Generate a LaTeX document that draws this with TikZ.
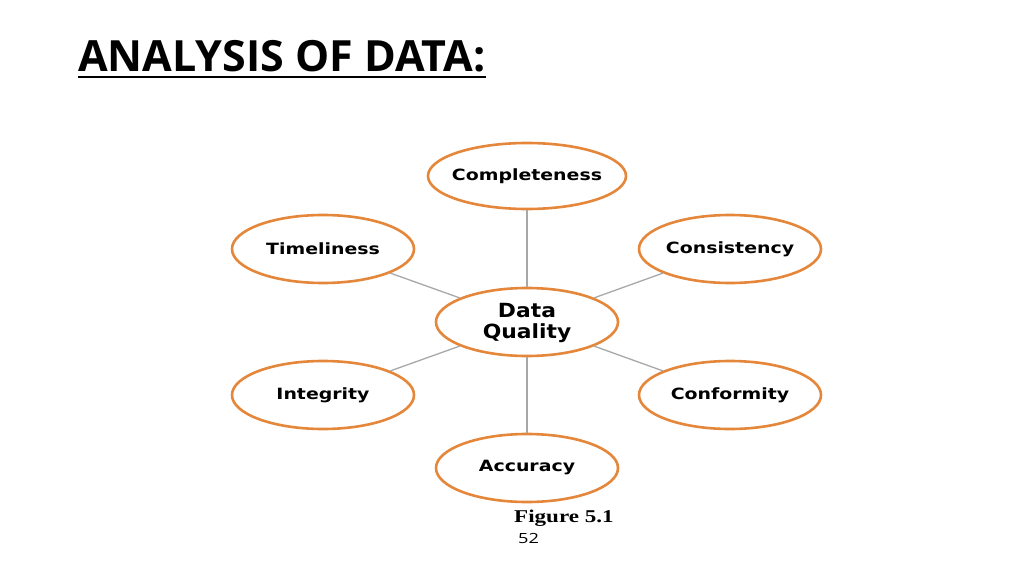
\documentclass[tikz,border=0pt]{standalone}
\usepackage{fontspec}
\usetikzlibrary{shapes.geometric}
\newfontfamily\titlefont{Open Sans}
\newfontfamily\ovalfont{DejaVu Sans}[FakeStretch=1.22]
\newfontfamily\hubfont{DejaVu Sans}[FakeStretch=1.12]
\newfontfamily\capfont{Liberation Serif}[FakeStretch=1.28]
\newfontfamily\pagefont{Open Sans}[FakeStretch=1.3]
\definecolor{qorange}{HTML}{E5873A}
\definecolor{qgray}{HTML}{A8A8A8}
\begin{document}
\begin{tikzpicture}[x=1pt, y=-1pt,
  ovaltext/.style={inner sep=0pt, font=\ovalfont\bfseries\fontsize{15.5}{18}\selectfont},
  oval/.style={ellipse, draw=qorange, line width=2.6pt, fill=white, inner sep=0pt,
    minimum width=182pt, minimum height=68pt, label={[ovaltext]center:#1}},
  link/.style={draw=qgray, line width=1.3pt}]
\useasboundingbox (0,0) rectangle (1024,575);
% title
\node[anchor=base west, inner sep=0pt, font=\titlefont\bfseries\fontsize{43}{50}\selectfont] (title) at (78,72) {ANALYSIS OF DATA:};
\draw[line width=2pt] ([yshift=-5pt]title.base west) -- ([yshift=-5pt]title.base east);
% ovals
\node[oval={}] (dq) at (527,322) {};
\node[oval=Completeness, minimum width=198pt, minimum height=66pt] (comp) at (527,176) {};
\node[oval=Timeliness] (time) at (323,249) {};
\node[oval=Consistency] (cons) at (730,249) {};
\node[oval=Integrity] (integ) at (323,395) {};
\node[oval=Conformity] (conf) at (730,395) {};
\node[oval=Accuracy] (acc) at (527,468) {};
\node[align=center, font=\hubfont\bfseries\fontsize{19.5}{21}\selectfont] (hub) at (527,323) {Data\\Quality};
% links
\foreach \n in {comp,time,cons,integ,conf,acc}
  \path[link] (dq) -- (\n);
% caption
\node[anchor=base west, inner sep=0pt, font=\capfont\bfseries\fontsize{18}{20}\selectfont] (fig) at (514,522) {Figure 5.1};
\node[anchor=base west, inner sep=0pt, font=\pagefont\fontsize{14}{16}\selectfont] (page) at (518,543) {52};
\end{tikzpicture}
\end{document}
